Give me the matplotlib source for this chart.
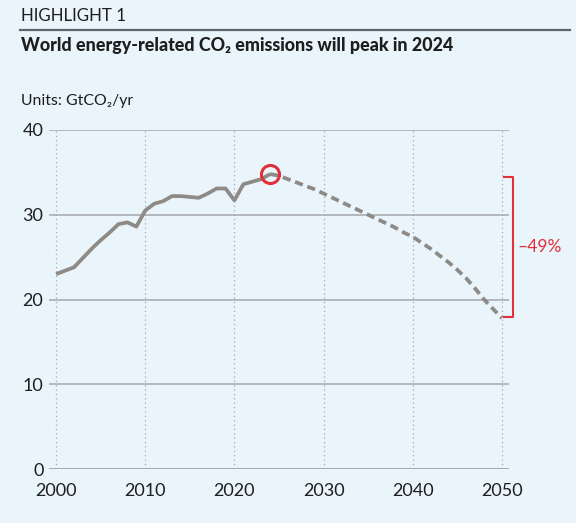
import matplotlib
matplotlib.use("Agg")
import matplotlib.pyplot as plt

plt.rcParams['font.family'] = ['Lato', 'DejaVu Sans']

# Historical emissions (GtCO2/yr)
hist_years = list(range(2000, 2025))
hist_values = [23.0, 23.4, 23.8, 24.9, 26.0, 27.0, 27.9, 28.9, 29.1, 28.6,
               30.5, 31.3, 31.6, 32.2, 32.2, 32.1, 32.0, 32.5, 33.1, 33.1,
               31.7, 33.6, 33.9, 34.2, 34.8]
# Projection
proj_years = list(range(2024, 2051))
proj_values = [34.8, 34.6, 34.2, 33.8, 33.4, 33.0, 32.5, 32.0, 31.5, 31.0,
               30.5, 30.0, 29.5, 29.0, 28.5, 27.9, 27.4, 26.7, 26.0, 25.2,
               24.4, 23.5, 22.5, 21.3, 20.0, 18.9, 17.8]
peak_year, peak_value = 2024, 34.8
bracket_top, bracket_bottom = 34.4, 17.9
change_label = "\u201349%"

x_ticks = [2000, 2010, 2020, 2030, 2040, 2050]
y_ticks = [0, 10, 20, 30, 40]

BG = "#EAF5FB"
GREY = "#8E8A85"
RED = "#E0303A"
GRID = "#A3A8AD"
TXT = "#1E1E1E"

fig = plt.figure(figsize=(5.76, 5.23), dpi=100, facecolor=BG)
W, H = 576, 523
# axes: x from 1999.2 (px 49) to 2050.8 (px 509); y 0 at px 469, 40 at px 130
ax = fig.add_axes([49 / W, (H - 469) / H, (509 - 49) / W, (469 - 130) / H])
ax.set_facecolor(BG)
ax.set_xlim(1999.2, 2050.8)
ax.set_ylim(0, 40)

for y in y_ticks:
    ax.axhline(y, color=GRID, lw=1.4 if y == 0 else 1.1, zorder=1)
for x in x_ticks:
    ax.axvline(x, color=GRID, lw=0.9, ls=(0, (1, 2.5)), zorder=1)

ax.plot(hist_years, hist_values, color=GREY, lw=2.7, solid_capstyle='butt',
        solid_joinstyle='round', zorder=3)
ax.plot(proj_years, proj_values, color=GREY, lw=2.7, ls=(0, (2.2, 1.3)),
        zorder=3)
ax.plot([peak_year], [peak_value], marker='o', ms=13, mfc='none', mec=RED,
        mew=2.2, zorder=4)

# bracket
bx = 2051.2
ax.plot([2050.2, bx, bx, 2050.2], [bracket_top, bracket_top, bracket_bottom, bracket_bottom],
        color=RED, lw=1.5, clip_on=False, zorder=4)
ax.text(bx + 0.5, (bracket_top + bracket_bottom) / 2 + 0.1, change_label,
        color=RED, fontsize=12.5, va='center', ha='left', clip_on=False)

for s in ax.spines.values():
    s.set_visible(False)
ax.set_xticks(x_ticks)
ax.set_yticks(y_ticks)
ax.set_xticklabels([str(v) for v in x_ticks])
ax.set_yticklabels([str(v) for v in y_ticks])
ax.tick_params(length=0, labelsize=13, colors=TXT)
ax.tick_params(axis='x', pad=10)
ax.tick_params(axis='y', pad=4)

fig.text(21 / W, 1 - 16 / H, "HIGHLIGHT 1", fontsize=12.2, color=TXT,
         va='center', ha='left')
fig.add_artist(plt.Line2D([20 / W, 570 / W], [1 - 30 / H, 1 - 30 / H],
                          color="#5C6670", lw=1.6))
fig.text(21 / W, 1 - 46 / H, "World energy-related CO\u2082 emissions will peak in 2024",
         fontsize=12.9, fontweight='black', color=TXT, va='center', ha='left')
fig.text(21 / W, 1 - 101 / H, "Units: GtCO\u2082/yr", fontsize=11.4, color=TXT,
         va='center', ha='left')

fig.savefig("out.png", dpi=100, facecolor=BG)
